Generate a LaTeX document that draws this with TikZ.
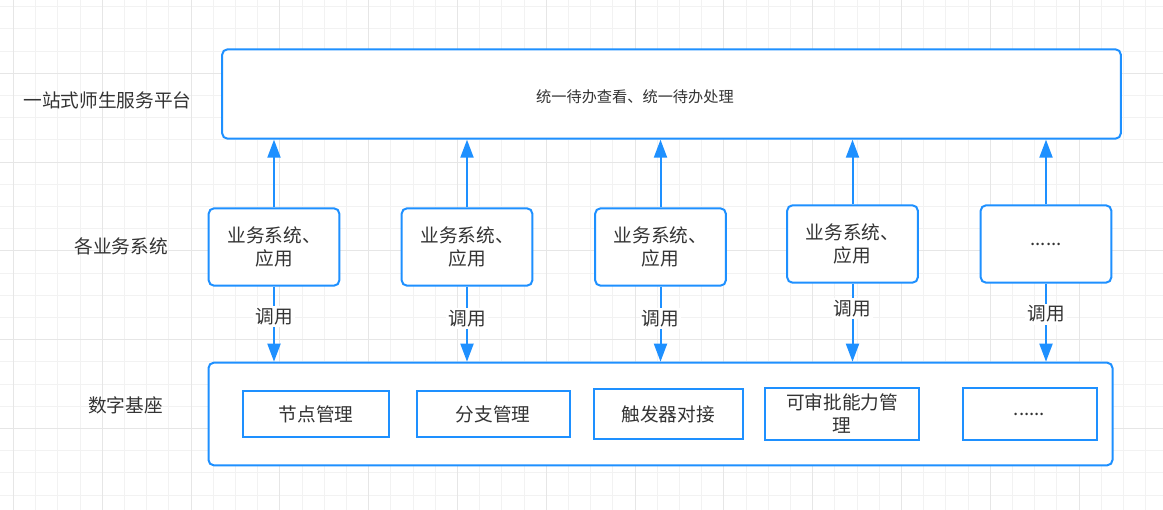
\documentclass[tikz,border=0pt]{standalone}
\usepackage{fontspec}
\setmainfont{Noto Sans CJK SC}
\usepackage{xcolor}
\usetikzlibrary{positioning,arrows.meta}

\definecolor{lineblue}{RGB}{30,144,255}
\definecolor{txtgray}{RGB}{51,51,51}
\definecolor{gridlight}{RGB}{242,242,242}
\definecolor{griddark}{RGB}{230,230,230}

\begin{document}
\begin{tikzpicture}[x=0.75pt, y=-0.75pt,
    lbl/.style = {text=txtgray, font=\fontsize{14}{17}\selectfont, inner sep=0pt},
    platformbox/.style = {draw=lineblue, line width=1.5pt, rounded corners=4pt, fill=white, minimum width=674pt, minimum height=67pt, inner sep=0pt},
    appbox/.style = {draw=lineblue, line width=1.5pt, rounded corners=4pt, fill=white, minimum width=98pt, minimum height=58pt, align=center, text=txtgray, font=\fontsize{14}{17}\selectfont},
    basebox/.style = {draw=lineblue, line width=1.5pt, rounded corners=4pt, fill=white, minimum width=678pt, minimum height=77pt, inner sep=0pt},
    modbox/.style = {draw=lineblue, line width=1.5pt, fill=white, align=center, text=txtgray, font=\fontsize{14}{17}\selectfont},
    up/.style = {color=lineblue, line width=1.5pt, -{Triangle[length=13.5pt, width=9.75pt, fill=lineblue]}},
    callnote/.style = {fill=white, inner sep=1.5pt, text=txtgray, font=\fontsize{14}{17}\selectfont}]
    \useasboundingbox (0,0) rectangle (1163,510);
    \fill[white] (0,0) rectangle (1163,510);
    % background grid
    \foreach \i in {0,...,52} \draw[gridlight, line width=0.75pt] ({13.5+22.2*\i},0) -- ++(0,510);
    \foreach \j in {0,...,22} \draw[gridlight, line width=0.75pt] (0,{6.7+22.2*\j}) -- ++(1163,0);
    \foreach \i in {0,4,...,52} \draw[griddark, line width=0.75pt] ({13.5+22.2*\i},0) -- ++(0,510);
    \foreach \j in {3,7,...,23} \draw[griddark, line width=0.75pt] (0,{6.7+22.2*\j}) -- ++(1163,0);

    % row labels
    \node[lbl] (lplatform) at (107.5,100) {一站式师生服务平台};
    \node[lbl] (lapps) at (121,246) {各业务系统};
    \node[lbl] (lbase) at (125.5,405) {数字基座};

    % top platform
    \node[platformbox, label={[lbl, font=\fontsize{11.4}{13}\selectfont, xshift=-27.4pt, yshift=-2.2pt]center:统一待办查看、统一待办处理}] (platform) at (671.5,94) {};

    % business systems
    \node[appbox] (app1) at (274,247) {业务系统、\\应用};
    \node[appbox] (app2) at (467,247) {业务系统、\\应用};
    \node[appbox] (app3) at (660.5,247) {业务系统、\\应用};
    \node[appbox] (app4) at (852.5,244) {业务系统、\\应用};
    \node[appbox] (app5) at (1046,244) {......};

    % digital base
    \node[basebox] (base) at (660.5,414) {};
    \node[modbox, minimum width=110pt, minimum height=35pt] (mod1) at (316,414) {节点管理};
    \node[modbox, minimum width=115pt, minimum height=34.5pt] (mod2) at (493.3,414) {分支管理};
    \node[modbox, minimum width=111.5pt, minimum height=38pt] (mod3) at (668.3,414) {触发器对接};
    \node[modbox, minimum width=116pt, minimum height=39pt] (mod4) at (842,413.5) {可审批能力管\\理};
    \node[modbox, minimum width=100.5pt, minimum height=39.5pt] (mod5) at (1029.5,414) {......};

    \foreach \n in {1,...,5}
        \path[up] (app\n) edge (app\n |- platform.south);
    \foreach \n/\p in {1/.4, 2/.43, 3/.42, 4/.32, 5/.39}
        \path[up] (app\n) edge node[callnote, pos=\p] {调用} (app\n |- base.north);
\end{tikzpicture}
\end{document}
